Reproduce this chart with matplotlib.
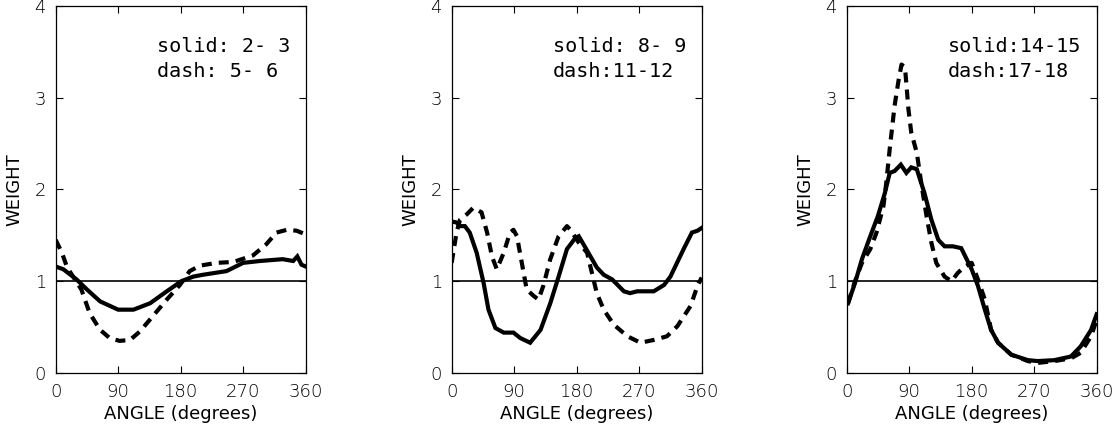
import matplotlib
matplotlib.use('Agg')
import matplotlib.pyplot as plt

# panel 1: solid 2-3, dash 5-6
p1_solid_x = [0, 11, 30, 45, 64, 90, 112, 136, 160, 181, 198, 212, 246, 270, 294, 327, 342, 348, 354, 360]
p1_solid_y = [1.16, 1.13, 1.02, 0.91, 0.78, 0.69, 0.69, 0.76, 0.89, 1.00, 1.05, 1.07, 1.11, 1.20, 1.22, 1.24, 1.22, 1.27, 1.18, 1.16]
p1_dash_x = [0, 9, 16, 20, 37, 49, 64, 78, 92, 107, 121, 140, 160, 179, 193, 208, 232, 256, 284, 303, 318, 333, 347, 360]
p1_dash_y = [1.45, 1.31, 1.16, 1.11, 0.91, 0.65, 0.47, 0.38, 0.35, 0.36, 0.45, 0.62, 0.80, 0.96, 1.11, 1.17, 1.20, 1.21, 1.28, 1.40, 1.53, 1.56, 1.55, 1.51]

# panel 2: solid 8-9, dash 11-12
p2_solid_x = [0, 7, 12, 19, 26, 36, 46, 53, 63, 75, 89, 99, 113, 128, 142, 154, 166, 178, 183, 190, 209, 219, 231, 248, 257, 267, 291, 306, 315, 334, 346, 354, 360]
p2_solid_y = [1.65, 1.64, 1.60, 1.60, 1.53, 1.31, 0.98, 0.69, 0.49, 0.44, 0.44, 0.38, 0.33, 0.47, 0.76, 1.05, 1.35, 1.47, 1.49, 1.40, 1.15, 1.07, 1.02, 0.89, 0.87, 0.89, 0.89, 0.96, 1.05, 1.35, 1.53, 1.55, 1.58]
p2_dash_x = [0, 7, 12, 22, 31, 43, 51, 58, 65, 75, 84, 89, 94, 101, 108, 118, 125, 132, 142, 154, 166, 171, 183, 195, 209, 219, 233, 253, 272, 291, 310, 325, 344, 354, 360]
p2_dash_y = [1.20, 1.53, 1.67, 1.73, 1.80, 1.75, 1.53, 1.27, 1.13, 1.31, 1.53, 1.56, 1.49, 1.20, 0.91, 0.84, 0.80, 0.95, 1.24, 1.49, 1.60, 1.56, 1.42, 1.31, 0.87, 0.69, 0.53, 0.40, 0.33, 0.36, 0.40, 0.51, 0.73, 0.95, 1.04]

# panel 3: solid 14-15, dash 17-18
p3_solid_x = [2, 12, 22, 34, 45, 55, 62, 69, 78, 86, 93, 101, 112, 122, 132, 141, 153, 165, 180, 189, 199, 208, 218, 237, 261, 275, 299, 323, 337, 352, 360]
p3_solid_y = [0.76, 0.98, 1.24, 1.49, 1.71, 1.96, 2.18, 2.20, 2.27, 2.18, 2.24, 2.22, 1.96, 1.67, 1.45, 1.38, 1.38, 1.36, 1.13, 0.95, 0.69, 0.47, 0.33, 0.20, 0.14, 0.13, 0.14, 0.18, 0.29, 0.47, 0.64]
p3_dash_x = [2, 12, 22, 34, 43, 53, 57, 62, 69, 75, 79, 84, 89, 93, 101, 108, 115, 122, 129, 141, 151, 160, 170, 180, 189, 199, 208, 218, 237, 261, 275, 299, 323, 337, 352, 360]
p3_dash_y = [0.76, 1.00, 1.20, 1.35, 1.53, 1.82, 2.07, 2.44, 2.91, 3.20, 3.36, 3.33, 2.87, 2.62, 2.40, 2.04, 1.71, 1.42, 1.20, 1.05, 1.00, 1.09, 1.16, 1.20, 1.02, 0.80, 0.47, 0.33, 0.20, 0.13, 0.11, 0.13, 0.16, 0.22, 0.40, 0.58]

labels = [("solid: 2- 3", "dash: 5- 6"),
          ("solid: 8- 9", "dash:11-12"),
          ("solid:14-15", "dash:17-18")]
xticks = [0, 90, 180, 270, 360]
yticks = [0, 1, 2, 3, 4]

panels = [(p1_solid_x, p1_solid_y, p1_dash_x, p1_dash_y),
          (p2_solid_x, p2_solid_y, p2_dash_x, p2_dash_y),
          (p3_solid_x, p3_solid_y, p3_dash_x, p3_dash_y)]

plt.rcParams['font.family'] = 'DejaVu Sans'
plt.rcParams['font.size'] = 13
plt.rcParams['font.weight'] = 'light'

fig = plt.figure(figsize=(11.18, 4.29), dpi=100)
lefts = [0.0498, 0.404, 0.7573]

for i in range(3):
    sx, sy, dx, dy = panels[i]
    ax = fig.add_axes([lefts[i], 0.1305, 0.2236, 0.856])
    ax.axhline(1.0, color='black', lw=1.2)
    ax.plot(sx, sy, color='black', lw=3, solid_joinstyle='miter')
    ax.plot(dx, dy, color='black', lw=3, dashes=(2.4, 1.7), dash_capstyle='butt')
    ax.set_xlim(0, 360)
    ax.set_ylim(0, 4)
    ax.set_xticks(xticks)
    ax.set_yticks(yticks)
    ax.tick_params(direction='in', length=5, width=0.8, top=True, right=True, pad=7)
    for s in ax.spines.values():
        s.set_linewidth(0.9)
    ax.set_xlabel('ANGLE (degrees)', labelpad=3)
    ax.set_ylabel('WEIGHT')
    ax.yaxis.set_label_coords(-0.128, 0.5)
    ax.text(0.405, 0.888, labels[i][0], transform=ax.transAxes, va='center', ha='left',
            fontsize=14.5, family='DejaVu Sans Mono')
    ax.text(0.405, 0.82, labels[i][1], transform=ax.transAxes, va='center', ha='left',
            fontsize=14.5, family='DejaVu Sans Mono')

fig.savefig('out.png', dpi=100)
